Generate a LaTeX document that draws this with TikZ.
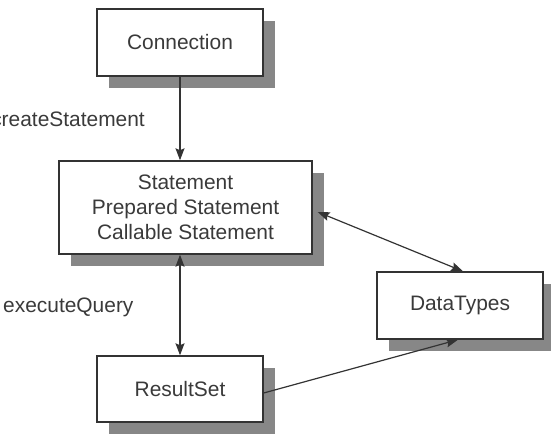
\documentclass[tikz,border=0pt]{standalone}
\usepackage{fontspec}
\setmainfont{Liberation Sans}
\usetikzlibrary{arrows.meta,shadows,calc}
\definecolor{inkgray}{HTML}{333333}
\definecolor{txtgray}{HTML}{3A3A3A}
\definecolor{shadowgray}{HTML}{878787}
\tikzset{
  box/.style={draw=inkgray, line width=1.4bp, fill=white, text=txtgray,
    font=\fontsize{21}{25}\selectfont, align=center, inner sep=0pt,
    general shadow={fill=shadowgray, shadow xshift=12bp, shadow yshift=-12bp}},
  lbl/.style={text=txtgray, font=\fontsize{21}{25}\selectfont, inner sep=0pt},
  conn/.style={draw=inkgray, line width=1.2bp, >={Stealth[length=12bp, width=9bp, inset=2bp]}}
}
\begin{document}
\begin{tikzpicture}[x=1bp, y=-1bp]
\useasboundingbox (0,0) rectangle (551,438);
\node[box, minimum width=166bp, minimum height=67bp] (conn) at (180,42.5) {Connection};
\node[box, minimum width=253bp, minimum height=93bp] (stmt) at (185.5,207.5) {Statement\\Prepared Statement\\Callable Statement};
\node[box, minimum width=166bp, minimum height=66bp] (rs) at (180,389) {ResultSet};
\node[box, minimum width=166bp, minimum height=67bp] (dt) at (460,305.5) {DataTypes};
\node[lbl, anchor=east] (lcreate) at (145,119) {createStatement};
\node[lbl, anchor=west] (lexec) at (3,307) {executeQuery};
\draw[conn, ->] (conn.south) -- (conn.south |- stmt.north);
\draw[conn, <->] (rs.north |- stmt.south) -- (rs.north);
\draw[conn, <->] ($(stmt.east)+(5,4.5)$) -- ($(dt.north)+(3,0)$);
\draw[conn, ->] ($(rs.east)+(0,4)$) -- ($(dt.south)+(-2,0)$);
\end{tikzpicture}
\end{document}
